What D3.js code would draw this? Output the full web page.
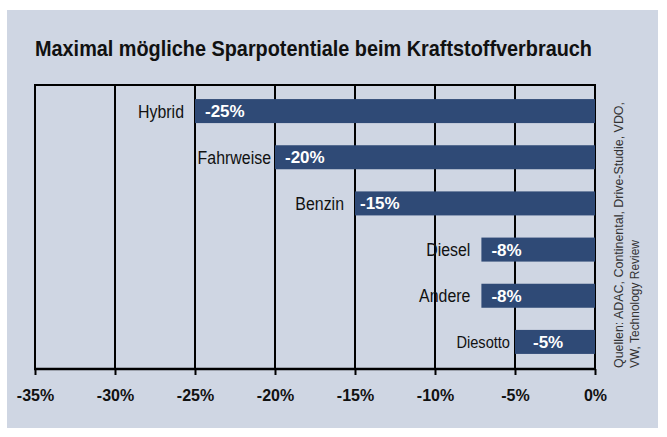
<!DOCTYPE html>
<html>
<head>
<meta charset="utf-8">
<script src="https://cdn.jsdelivr.net/npm/d3@7"></script>
<style>
  html, body { margin: 0; padding: 0; background: #ffffff; }
  svg { display: block; }
</style>
</head>
<body>
<svg id="chart" width="667" height="437"></svg>
<script>
// ---- data ----
const categories = ["Hybrid", "Fahrweise", "Benzin", "Diesel", "Andere", "Diesotto"];
const values = [-25, -20, -15, -7.1, -7.1, -5];
const valueLabels = ["-25%", "-20%", "-15%", "-8%", "-8%", "-5%"];
const tickValues = [-35, -30, -25, -20, -15, -10, -5, 0];
const tickLabels = ["-35%", "-30%", "-25%", "-20%", "-15%", "-10%", "-5%", "0%"];
const titleText = "Maximal mögliche Sparpotentiale beim Kraftstoffverbrauch";
const sourceLines = ["Quellen: ADAC, Continental, Drive-Studie, VDO,", "VW, Technology Review"];

// ---- styles ----
const FONT = "'Liberation Sans', Arial, sans-serif";
const panelColor = "#cfd6e3";
const barColor = "#2f4a76";
const catGap = { Fahrweise: 4, Diesotto: 5 };
const valGap = { Benzin: 5, Diesotto: 18 };
const catSize = { Diesotto: 17 };

const svg = d3.select("#chart");

svg.append("rect").attr("x", 7).attr("y", 10).attr("width", 651).attr("height", 418)
  .attr("fill", panelColor);

const x = d3.scaleLinear().domain([-35, 0]).range([35, 595]);
const y = d3.scaleBand().domain(categories).range([88, 365]).paddingInner(0.48).paddingOuter(0.24);

const plotTop = 85, plotBottom = 369;

// title
svg.append("text").attr("x", 35).attr("y", 56)
  .attr("font-family", FONT).attr("font-weight", "bold").attr("font-size", 22)
  .attr("fill", "#111").attr("textLength", 557).attr("lengthAdjust", "spacingAndGlyphs")
  .text(titleText);

// gridlines
svg.append("g").selectAll("line").data(tickValues).join("line")
  .attr("x1", d => x(d)).attr("x2", d => x(d))
  .attr("y1", plotTop).attr("y2", plotBottom)
  .attr("stroke", "#000").attr("stroke-width", 2);
svg.append("line").attr("x1", x(-35) - 1).attr("x2", x(0) + 1).attr("y1", plotTop).attr("y2", plotTop)
  .attr("stroke", "#000").attr("stroke-width", 2);

// bars
const rows = categories.map((c, i) => ({ c, v: values[i], label: valueLabels[i] }));
svg.append("g").selectAll("rect").data(rows).join("rect")
  .attr("x", d => x(d.v)).attr("width", d => x(0) - x(d.v))
  .attr("y", d => y(d.c)).attr("height", y.bandwidth())
  .attr("fill", barColor);

// category labels
svg.append("g").selectAll("text").data(rows).join("text")
  .attr("transform", d => `translate(${x(d.v) - (catGap[d.c] ?? 11)},${y(d.c) + y.bandwidth() / 2 + 6.5}) scale(0.86,1)`)
  .attr("text-anchor", "end")
  .attr("font-family", FONT).attr("font-size", d => catSize[d.c] ?? 18.5)
  .attr("fill", "#111")
  .text(d => d.c);

// value labels
svg.append("g").selectAll("text").data(rows).join("text")
  .attr("x", d => x(d.v) + (valGap[d.c] ?? 10))
  .attr("y", d => y(d.c) + y.bandwidth() / 2 + 6)
  .attr("font-family", FONT).attr("font-weight", "bold").attr("font-size", 17)
  .attr("fill", "#fff")
  .text(d => d.label);

// axis
const axis = d3.axisBottom(x).tickValues(tickValues)
  .tickFormat((d, i) => tickLabels[i]).tickSize(6).tickSizeOuter(0).tickPadding(15);
const gA = svg.append("g").attr("transform", `translate(0,${plotBottom})`).call(axis);
gA.select(".domain").attr("stroke", "#000").attr("stroke-width", 2.5)
  .attr("d", `M${x(-35) - 1},0H${x(0) + 1}`);
gA.selectAll(".tick line").attr("stroke", "#000").attr("stroke-width", 2);
gA.selectAll(".tick text").attr("font-family", FONT).attr("font-weight", "bold")
  .attr("font-size", 16).attr("fill", "#111");

// source
const srcX = [623, 639];
const srcLen = [266, 128];
sourceLines.forEach((t, i) => {
  svg.append("text")
    .attr("transform", `translate(${srcX[i]},368) rotate(-90)`)
    .attr("font-family", FONT).attr("font-size", 13.5).attr("fill", "#333")
    .attr("textLength", srcLen[i]).attr("lengthAdjust", "spacingAndGlyphs")
    .text(t);
});
</script>
</body>
</html>
